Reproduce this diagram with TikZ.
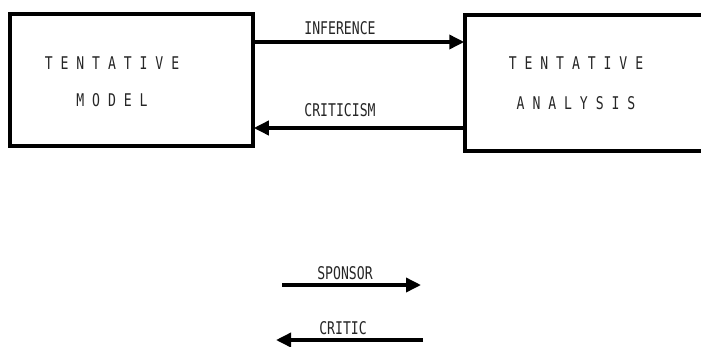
\documentclass[tikz,border=0pt]{standalone}
\usepackage{fontspec}
\newfontfamily\labelfont[FakeStretch=0.75]{DejaVu Sans Mono}
\usetikzlibrary{arrows.meta}
\tikzset{
  box/.style={draw=black, line width=3.5pt, fill=white, inner sep=0pt},
  conn/.style={line width=3.5pt, -{Triangle[length=15pt,width=14pt]}, shorten >=-1pt},
  lbl/.style={font=\labelfont\fontsize{17.5}{20}\selectfont, text=black!85, inner sep=0pt},
}
\begin{document}
\begin{tikzpicture}[x=1pt,y=-1pt]
  \fill[white] (0,0) rectangle (701,346);
  \useasboundingbox (0,0) rectangle (701,346);
  \clip (0,0) rectangle (701,346);
  % boxes
  \node[box, minimum width=243pt, minimum height=132pt] (L) at (131.5,80) {};
  \node[box, minimum width=240pt, minimum height=136pt] (R) at (585,83) {};
  % box texts
  \node[lbl] (l1) at (112,63) {T E N T A T I V E};
  \node[lbl] (l2) at (112,100) {M O D E L};
  \node[lbl] (r1) at (576,63) {T E N T A T I V E};
  \node[lbl] (r2) at (576,103) {A N A L Y S I S};
  % connectors between boxes
  \coordinate (infy) at (0,42);
  \coordinate (cry) at (0,128);
  \draw[conn] (L.east |- infy) -- (R.west |- infy);
  \draw[conn] (R.west |- cry) -- (L.east |- cry);
  \node[lbl] (inf) at (340,28) {INFERENCE};
  \node[lbl] (cri) at (340,110) {CRITICISM};
  % legend arrows
  \coordinate (s1) at (282,285);
  \coordinate (s2) at (420,285);
  \coordinate (c1) at (423,340);
  \coordinate (c2) at (277,340);
  \draw[conn] (s1) -- (s2);
  \draw[conn] (c1) -- (c2);
  \node[lbl] (sp) at (345,273) {SPONSOR};
  \node[lbl] (ct) at (343,328) {CRITIC};
\end{tikzpicture}
\end{document}
